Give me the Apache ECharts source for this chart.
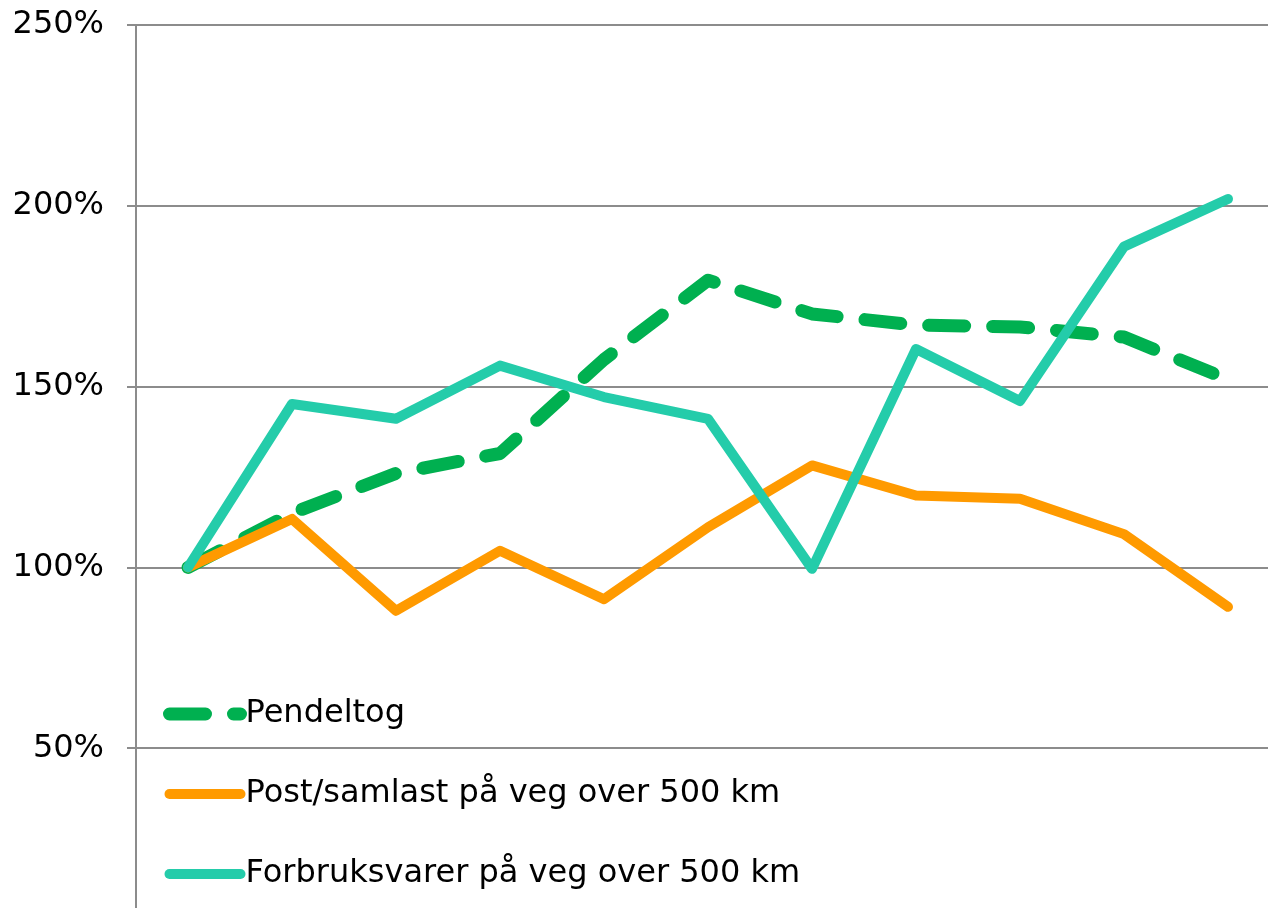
<!DOCTYPE html>
<html>
<head>
<meta charset="utf-8">
<script src="https://cdn.jsdelivr.net/npm/echarts@6/dist/echarts.min.js"></script>
<style>
  html, body { margin: 0; padding: 0; background: #fff; overflow: hidden; }
  /* chart runs a little past the window: the bottom (0%) and right edge are cut off like the original */
  #main { width: 1280px; height: 929px; }
</style>
</head>
<body>
<div id="main"></div>
<script>
// data (index, 100 = first point)
var categories = ['1', '2', '3', '4', '5', '6', '7', '8', '9', '10', '11'];
var pendeltog = [100, 115, 126, 131.5, 157.5, 179.4, 170.1, 167, 166.5, 163.7, 152];
var postSamlast = [100, 113.4, 88, 104.6, 91.2, 111.1, 128.2, 119.9, 119, 109.2, 89.1];
var forbruk = [100, 145.2, 141.1, 155.8, 147.1, 141.1, 99.6, 160.4, 146, 188.7, 201.9];
var seriesNames = ['Pendeltog', 'Post/samlast på veg over 500 km', 'Forbruksvarer på veg over 500 km'];

var myChart = echarts.init(document.getElementById('main'));

var option = {
    animation: false,
    backgroundColor: '#fff',
    textStyle: { fontFamily: 'DejaVu Sans' },
    grid: { left: 136, right: 0, top: 25, bottom: 0 },
    legend: {
        orient: 'vertical',
        left: 158,
        top: 689,
        itemWidth: 71,
        itemHeight: 14,
        itemGap: 40,
        data: seriesNames,
        itemStyle: { opacity: 0 },
        lineStyle: { width: 'inherit', type: 'inherit', cap: 'round' },
        textStyle: { fontSize: 32, color: '#000', lineHeight: 40, fontFamily: 'DejaVu Sans' }
    },
    xAxis: {
        type: 'category',
        data: categories,
        boundaryGap: true,
        axisLine: { show: false },
        axisTick: { show: false },
        axisLabel: { show: false }
    },
    yAxis: {
        type: 'value',
        min: 0,
        max: 250,
        interval: 50,
        axisLine: { show: true, lineStyle: { color: '#8c8c8c', width: 2 } },
        axisTick: { show: true, length: 9, lineStyle: { color: '#8c8c8c', width: 2 } },
        axisLabel: {
            margin: 32,
            fontSize: 32,
            color: '#000',
            fontFamily: 'DejaVu Sans',
            formatter: function (v) { return v === 0 ? '' : v + '%'; }
        },
        splitLine: { lineStyle: { color: '#8c8c8c', width: 2 } }
    },
    series: [
        {
            name: seriesNames[0],
            type: 'line',
            data: pendeltog,
            symbol: 'none',
            color: '#00b050',
            lineStyle: { width: 13, type: [36, 28], cap: 'round', join: 'round', color: '#00b050' }
        },
        {
            name: seriesNames[1],
            type: 'line',
            data: postSamlast,
            symbol: 'none',
            color: '#ff9a00',
            lineStyle: { width: 10, cap: 'round', join: 'round', color: '#ff9a00' }
        },
        {
            name: seriesNames[2],
            type: 'line',
            data: forbruk,
            symbol: 'none',
            color: '#24ccaa',
            lineStyle: { width: 10, cap: 'round', join: 'round', color: '#24ccaa' }
        }
    ]
};

myChart.setOption(option);
</script>
</body>
</html>
